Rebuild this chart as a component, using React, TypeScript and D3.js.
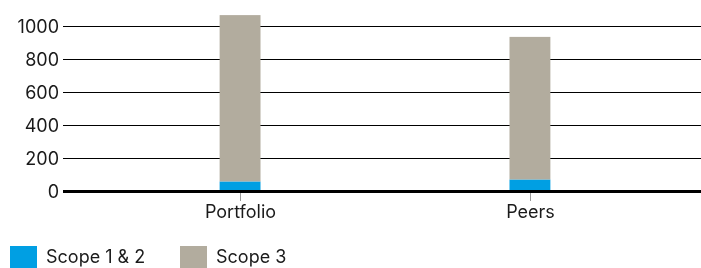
import React, { useEffect, useRef } from "react";
import * as d3 from "d3";

const categories = ["Portfolio", "Peers"];
const scope12 = [58, 70];
const scope3 = [1008, 864];
const yTicks = [0, 200, 400, 600, 800, 1000];
const seriesNames = ["Scope 1 & 2", "Scope 3"];
const seriesColors = ["#009FE3", "#B2AC9E"];

const W = 701;
const H = 268;
const FONT = "Inter, 'Noto Sans', sans-serif";

export default function App() {
  const ref = useRef<SVGSVGElement>(null);

  useEffect(() => {
    const svg = d3.select(ref.current);
    svg.selectAll("*").remove();

    const margin = { left: 63, top: 26, bottom: 77 };
    const x = d3
      .scaleBand()
      .domain(categories)
      .range([66, 704])
      .paddingInner(0.859)
      .paddingOuter(0.53);
    const y = d3
      .scaleLinear()
      .domain([0, 1000])
      .range([H - margin.bottom, margin.top]);

    const data = categories.map((c, i) => ({ cat: c, s12: scope12[i], s3: scope3[i] }));
    const stack = d3.stack<any>().keys(["s12", "s3"])(data);

    // gridlines + y labels
    const grid = svg.append("g");
    yTicks.forEach((t) => {
      const yy = Math.round(y(t)) + 0.5;
      grid
        .append("line")
        .attr("x1", margin.left)
        .attr("x2", W)
        .attr("y1", yy)
        .attr("y2", yy)
        .attr("stroke", "#000")
        .attr("stroke-width", 1);
      grid
        .append("text")
        .attr("x", margin.left - 4)
        .attr("y", yy)
        .attr("dy", "0.35em")
        .attr("text-anchor", "end")
        .attr("font-family", FONT)
        .attr("font-size", 18)
        .attr("fill", "#1a1a1a")
        .text(t);
    });

    // bars
    svg
      .append("g")
      .selectAll("g")
      .data(stack)
      .join("g")
      .attr("fill", (_, i) => seriesColors[i])
      .selectAll("rect")
      .data((d) => d)
      .join("rect")
      .attr("x", (d: any) => x(d.data.cat)!)
      .attr("width", x.bandwidth())
      .attr("y", (d) => y(d[1]))
      .attr("height", (d) => y(d[0]) - y(d[1]));

    // zero line on top
    svg
      .append("line")
      .attr("x1", margin.left)
      .attr("x2", W)
      .attr("y1", y(0) + 0.5)
      .attr("y2", y(0) + 0.5)
      .attr("stroke", "#000")
      .attr("stroke-width", 3);

    // x ticks and labels
    const xa = svg.append("g");
    categories.forEach((c) => {
      const cx = Math.round(x(c)! + x.bandwidth() / 2) + 0.5;
      xa.append("line")
        .attr("x1", cx)
        .attr("x2", cx)
        .attr("y1", y(0) + 2)
        .attr("y2", y(0) + 10)
        .attr("stroke", "#999")
        .attr("stroke-width", 1);
      xa.append("text")
        .attr("x", cx)
        .attr("y", 218)
        .attr("text-anchor", "middle")
        .attr("font-family", FONT)
        .attr("font-size", 18)
        .attr("fill", "#1a1a1a")
        .text(c);
    });

    // legend
    const lg = svg.append("g");
    const legendX = [10, 180];
    seriesNames.forEach((n, i) => {
      lg.append("rect")
        .attr("x", legendX[i])
        .attr("y", 246)
        .attr("width", 27)
        .attr("height", 27)
        .attr("fill", seriesColors[i]);
      lg.append("text")
        .attr("x", legendX[i] + 36)
        .attr("y", 263)
        .attr("font-family", FONT)
        .attr("font-size", 18)
        .attr("fill", "#1a1a1a")
        .text(n);
    });
  }, []);

  return (
    <div style={{ position: "fixed", left: 0, top: 0 }}>
      <svg ref={ref} width={W} height={H} style={{ display: "block" }} />
    </div>
  );
}
